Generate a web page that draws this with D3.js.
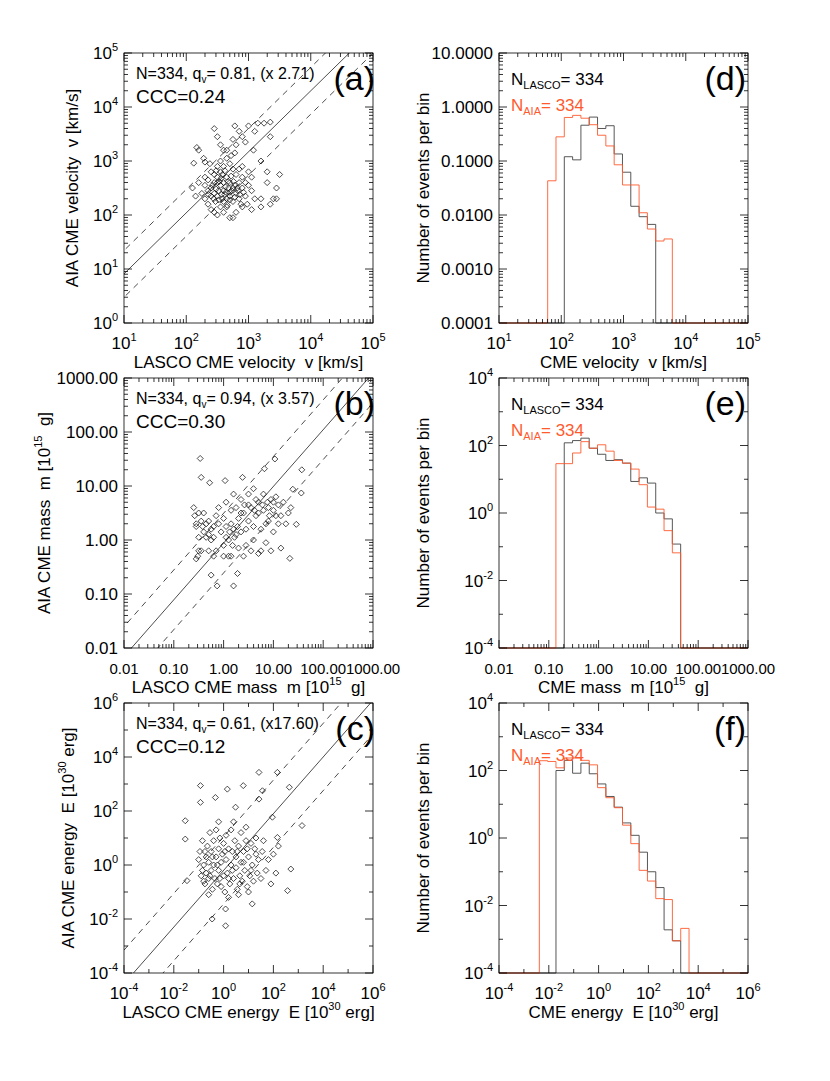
<!DOCTYPE html>
<html><head><meta charset="utf-8">
<script src="https://cdn.jsdelivr.net/npm/d3@7"></script>
<style>
body{margin:0;background:#fff}
text{font-family:"Liberation Sans",Arial,sans-serif;fill:#000;white-space:pre}
</style></head>
<body><svg id="fig" width="830" height="1081"></svg>
<script>
// scatter points as [log10 LASCO, log10 AIA]
const velPts = [[2.17,3.25],[2.2,3.2],[2.12,2.96],[2.3,2.98],[2.28,3.05],[2.45,3.6],[2.5,3.45],[2.55,3.3],[2.6,3.2],[2.65,3.2],[2.78,3.65],[2.85,3.55],[2.75,3.4],[2.9,3.45],[2.95,3.35],[3.0,3.65],[3.1,3.55],[3.15,3.7],[3.25,3.7],[3.35,3.72],[3.08,3.2],[3.2,3.0],[3.35,3.45],[3.3,2.8],[3.05,2.7],[3.3,2.6],[3.45,2.5],[3.5,2.75],[3.4,2.3],[3.45,2.3],[3.35,2.2],[3.2,2.3],[3.1,2.3],[3.05,2.1],[3.2,2.15],[2.9,2.15],[3.05,2.45],[2.1,2.5],[2.15,2.35],[2.2,2.6],[2.25,2.4],[2.3,2.3],[2.35,2.2],[2.4,2.1],[2.45,2.05],[2.5,2.0],[2.6,2.05],[2.7,1.95],[2.75,1.95],[2.8,2.05],[2.65,2.15],
  [2.4,2.5],[2.45,2.6],[2.5,2.7],[2.55,2.55],[2.6,2.45],[2.5,2.35],[2.45,2.4],[2.55,2.8],[2.6,2.9],[2.65,2.7],[2.7,2.6],[2.75,2.5],[2.8,2.4],[2.7,2.35],[2.65,2.3],[2.6,2.25],[2.75,2.25],[2.85,2.3],[2.9,2.5],[2.85,2.6],[2.8,2.75],[2.75,2.85],[2.7,2.95],[2.65,3.05],[2.55,3.0],[2.5,2.9],[2.4,2.8],[2.35,2.65],[2.3,2.55],[2.4,2.35],[2.35,2.45],[2.9,2.7],[2.95,2.6],[2.95,2.35],[3.0,2.55],[2.85,2.85],[2.78,3.15],[2.72,3.1],[2.8,3.3],[2.6,2.6],[2.68,2.5],[2.52,2.45],[2.58,2.75],[2.47,2.25],[2.62,2.38],[2.72,2.72],[2.82,2.5],[2.9,2.9],[3.0,2.8],[2.55,2.15],[2.5,2.6],[2.45,2.75],[2.38,2.95],[2.3,2.7],[2.98,2.2],[2.88,2.2],[2.7,2.42],[2.62,2.82],[2.76,2.62],[2.66,2.18],
  [2.42,2.55],[2.48,2.48],[2.53,2.62],[2.57,2.38],[2.63,2.52],[2.67,2.62],[2.73,2.45],[2.78,2.33],[2.83,2.45],[2.58,2.3],[2.52,2.28],[2.44,2.3],[2.36,2.38],[2.48,2.82],[2.56,2.68],[2.64,2.42],[2.7,2.28],[2.78,2.55],[2.86,2.38],[2.92,2.42]];
const massPts = [[-0.47,1.51],[-0.45,1.16],[-0.28,1.06],[0.03,1.1],[-0.25,-0.65],[-0.13,-0.85],[0.2,-0.85],[0.28,-0.62],[1.03,1.5],[0.82,1.32],[1.57,1.3],[1.33,-0.34],[1.46,0.29],[1.56,0.87],[1.39,0.94],[0.38,1.16],
  [-0.6,0.6],[-0.58,0.45],[-0.55,0.3],[-0.5,0.5],[-0.55,0.25],[-0.52,-0.3],[-0.55,-0.35],[-0.5,-0.2],[-0.45,0.35],[-0.4,0.15],[-0.35,0.3],[-0.3,0.1],[-0.3,0.35],[-0.25,0.0],[-0.2,0.25],[-0.2,0.05],[-0.15,-0.2],[-0.1,0.3],[-0.1,0.6],[-0.05,0.15],[0,0.4],[0,-0.1],[0.05,0.7],[0.05,0.25],[0.1,0.0],[0.1,-0.3],[0.15,0.55],[0.15,0.3],[0.2,0.85],[0.25,0.6],[0.25,0.1],[0.3,-0.15],[0.3,0.4],[0.35,0.75],[0.35,0.15],[0.4,-0.3],[0.4,0.5],[0.45,0.2],[0.45,-0.1],[0.5,0.85],[0.5,0.35],[0.55,-0.2],[0.55,0.6],[0.6,0.25],[0.6,0.95],[0.65,0.45],[0.7,-0.25],[0.7,0.7],[0.75,0.2],[0.8,0.55],[0.8,0.85],[0.85,-0.05],[0.9,0.6],[0.9,0.35],[0.95,0.75],[0.95,-0.2],[1.0,0.55],[1.0,0.15],[1.05,0.8],[1.1,0.3],[1.1,0.65],[1.15,-0.15],[1.15,0.45],[1.2,0.7],[1.25,0.3],[1.3,0.5],[1.35,0.6],[-0.45,-0.2],[-0.3,-0.2],[0.15,-0.3],[0.0,-0.3],[0.6,0.0],[0.75,-0.2],[0.2,0.2],[-0.15,0.45],[-0.4,0.5],[0.65,0.75],[0.85,0.3],[0.35,0.5],[-0.2,-0.3],
  [-0.5,0.05],[-0.42,0.25],[-0.35,0.05],[-0.25,0.2],[0.05,0.05],[0.12,0.15],[0.18,-0.1],[0.22,0.05],[0.28,0.25],[0.42,0.65],[0.5,0.65],[0.62,0.55],[0.7,0.5],[0.78,0.65],[0.88,0.7],[0.92,0.45],[1.0,0.7],[1.05,0.45]];
const energyPts = [[-0.93,2.94],[-0.93,2.32],[-0.33,2.5],[0.15,2.81],[0.79,2.94],[1.42,3.43],[2.16,3.43],[2.64,2.88],[3.15,1.46],[-1.54,1.64],[-1.54,0.96],[-1.47,-0.58],[0.08,-1.63],[0.08,-2.25],[-0.46,-2.0],[1.15,-1.44],[2.57,-0.95],[2.7,-0.15],[1.96,1.77],[0.48,2.14],[1.42,2.44],[1.56,2.75],[2.16,1.02],
  [-1.0,0.2],[-0.95,0.5],[-0.9,-0.4],[-0.85,0.9],[-0.8,-0.6],[-0.8,0.0],[-0.75,-0.7],[-0.7,0.3],[-0.7,-0.3],[-0.65,0.7],[-0.6,-0.5],[-0.6,0.1],[-0.55,1.2],[-0.5,-0.2],[-0.5,0.5],[-0.45,-0.9],[-0.4,0.9],[-0.4,0.0],[-0.35,-0.5],[-0.3,1.3],[-0.3,0.3],[-0.25,-0.7],[-0.2,0.6],[-0.2,-0.2],[-0.15,1.0],[-0.1,0.1],[-0.1,-0.8],[-0.05,0.4],[0.0,-0.4],[0.0,0.8],[0.05,-1.0],[0.1,0.2],[0.1,1.1],[0.15,-0.3],[0.2,0.6],[0.25,-0.7],[0.3,0.0],[0.3,1.3],[0.35,0.5],[0.4,-0.5],[0.45,0.9],[0.5,-0.1],[0.5,0.3],[0.55,-0.9],[0.6,0.7],[0.65,-0.4],[0.7,0.1],[0.7,1.2],[0.75,-0.6],[0.8,0.5],[0.85,-0.2],[0.9,0.9],[0.95,-0.8],[1.0,0.3],[1.05,-0.4],[1.1,0.8],[1.15,0.0],[1.2,-0.6],[1.25,0.6],[1.3,1.0],[1.35,-0.3],[1.4,0.2],[1.5,-0.5],[1.55,0.5],[1.6,0.9],[1.7,-0.2],[1.8,0.2],[1.9,-0.7],[2.0,0.4],[2.1,-0.3],[2.2,0.7],[0.2,-1.2],[0.6,-1.1],[1.0,-1.0],[-0.6,-1.1],[0.4,1.6],[0.9,1.4],[-0.2,1.6],
  [-0.85,-0.2],[-0.75,0.5],[-0.55,-0.4],[-0.45,0.3],[-0.25,0.0],[-0.15,-0.5],[0.05,0.5],[0.2,-0.5],[0.35,-0.2],[0.55,0.5],[0.65,-0.7],[0.8,0.1],[0.95,0.6],[1.1,-0.2],[1.3,0.4]];

// fit lines: [log x0, log y0, slope, log factor]
const velFit = [1, 0.91, 1.13, Math.log10(2.71)];
const massFit = [-1.85, -2, 1.05, Math.log10(3.57)];
const energyFit = [-3.62, -4, 1.05, Math.log10(17.6)];

// histograms: log10 of first bin left edge, bin width in dex, counts per bin
const velBins = {start: 1.782, width: 0.1335};
const velLasco = [0, 0, 0.12, 0.105, 0.46, 0.65, 0.40, 0.45, 0.135, 0.062, 0.0145, 0.0093, 0.0067, 0, 0, 0];
const velAia = [0.043, 0.28, 0.64, 0.70, 0.62, 0.47, 0.30, 0.19, 0.085, 0.036, 0.036, 0.011, 0.0055, 0.0033, 0.0036, 0];
const massBins = {start: -0.857, width: 0.167};
const massLasco = [0, 120, 140, 165, 83, 55, 36, 38, 30, 8.6, 11, 7.7, 1.0, 0.67, 0.12, 0];
const massAia = [29, 29, 60, 130, 83, 105, 68, 36, 30, 20, 6.9, 1.5, 1.3, 0.3, 0.066, 0];
const energyBins = {start: -2.38, width: 0.334};
const energyLasco = [0, 0, 100, 200, 83, 165, 80, 40, 17, 8.2, 2.8, 1.2, 0.38, 0.1, 0.034, 0.0019, 0.0009, 0];
const energyAia = [195, 185, 120, 235, 235, 200, 147, 31, 15.6, 7.9, 2.4, 0.68, 0.11, 0.053, 0.016, 0.015, 0.0009, 0.0021];

const RED = "#ff5a2e";
const svg = d3.select("#fig");
const W = 249, H = 270;

function powLabel(sel, n) {
  sel.append("tspan").text("10");
  sel.append("tspan").attr("dy", -8).attr("font-size", 11).text(n);
}
function richText(g, x, y, parts, opts) {
  const t = g.append("text").attr("x", x).attr("y", y)
    .attr("font-size", opts.size).attr("text-anchor", opts.anchor || "start")
    .style("fill", opts.color || "#000");
  if (opts.transform) t.attr("transform", opts.transform);
  let shift = 0;
  parts.forEach(p => {
    const dy = (p.dy || 0) - shift; shift = p.dy || 0;
    t.append("tspan").attr("dy", dy).attr("font-size", p.fs || opts.size)
      .style("fill", opts.color || "#000").text(p.t);
  });
  return t;
}

function logAxes(g, x, y, xr, yr, xStep, yStep, xFmt, yFmt) {
  g.append("rect").attr("width", W).attr("height", H).attr("fill", "none").attr("stroke", "#000").attr("stroke-width", 0.8);
  function ticks(lo, hi, step) {
    const maj = [], min = [];
    for (let e = lo; e <= hi; e++) {
      if ((e - lo) % step === 0) maj.push(e); else min.push(Math.pow(10, e));
      if (step === 1 && e < hi) for (let k = 2; k < 10; k++) min.push(k * Math.pow(10, e));
    }
    return {maj, min};
  }
  const tx = ticks(xr[0], xr[1], xStep), ty = ticks(yr[0], yr[1], yStep);
  const tk = g.append("g").attr("stroke", "#000").attr("stroke-width", 0.8);
  tx.maj.forEach(e => { const p = x(Math.pow(10, e));
    tk.append("line").attr("x1", p).attr("x2", p).attr("y1", H).attr("y2", H - 8);
    tk.append("line").attr("x1", p).attr("x2", p).attr("y1", 0).attr("y2", 8); });
  tx.min.forEach(v => { const p = x(v);
    tk.append("line").attr("x1", p).attr("x2", p).attr("y1", H).attr("y2", H - 4);
    tk.append("line").attr("x1", p).attr("x2", p).attr("y1", 0).attr("y2", 4); });
  ty.maj.forEach(e => { const p = y(Math.pow(10, e));
    tk.append("line").attr("y1", p).attr("y2", p).attr("x1", 0).attr("x2", 8);
    tk.append("line").attr("y1", p).attr("y2", p).attr("x1", W).attr("x2", W - 8); });
  ty.min.forEach(v => { const p = y(v);
    tk.append("line").attr("y1", p).attr("y2", p).attr("x1", 0).attr("x2", 4);
    tk.append("line").attr("y1", p).attr("y2", p).attr("x1", W).attr("x2", W - 4); });
  const xfs = xFmt === "pow" ? 17 : 15;
  tx.maj.forEach(e => {
    const t = g.append("text").attr("x", x(Math.pow(10, e))).attr("y", H + 26)
      .attr("text-anchor", "middle").attr("font-size", xfs);
    if (xFmt === "pow") powLabel(t, e); else t.text(d3.format(xFmt)(Math.pow(10, e)));
  });
  ty.maj.forEach(e => {
    const t = g.append("text").attr("x", -6).attr("y", y(Math.pow(10, e)) + 6)
      .attr("text-anchor", "end").attr("font-size", 17);
    if (yFmt === "pow") powLabel(t, e); else t.text(d3.format(yFmt)(Math.pow(10, e)));
  });
}

function scatterPanel(o) {
  const g = svg.append("g").attr("transform", `translate(124,${o.top})`);
  const x = d3.scaleLog().domain(o.xd.map(e => Math.pow(10, e))).range([0, W]);
  const y = d3.scaleLog().domain(o.yd.map(e => Math.pow(10, e))).range([H, 0]);
  const clip = "clip" + o.tag;
  g.append("clipPath").attr("id", clip).append("rect").attr("width", W).attr("height", H);
  const body = g.append("g").attr("clip-path", `url(#${clip})`);
  const [lx0, ly0, s, f] = o.fit;
  const lx1 = o.xd[1] + 1;
  [[0, null], [f, "6,5"], [-f, "6,5"]].forEach(([off, dash]) => {
    const pts = [lx0 - 3, lx1].map(lx => [x(Math.pow(10, lx)), y(Math.pow(10, ly0 + s * (lx - lx0) + off))]);
    body.append("path").attr("d", d3.line()(pts)).attr("fill", "none").attr("stroke", "#000")
      .attr("stroke-width", 0.7).attr("stroke-dasharray", dash);
  });
  body.selectAll("path.pt").data(o.pts).join("path").attr("class", "pt")
    .attr("transform", d => `translate(${x(Math.pow(10, d[0]))},${y(Math.pow(10, d[1]))})`)
    .attr("d", "M0,-3L3,0L0,3L-3,0Z").attr("fill", "none").attr("stroke", "#000").attr("stroke-width", 0.7);
  logAxes(g, x, y, o.xd, o.yd, o.xStep, o.yStep, o.xFmt, o.yFmt);
  richText(g, 12, 26, [{t: "N=334, q"}, {t: "v", fs: 10, dy: 4}, {t: "= " + o.q + ", " + o.fac}], {size: 16});
  g.append("text").attr("x", 12).attr("y", 50).attr("font-size", 19).text(o.ccc);
  g.append("text").attr("x", W + 2).attr("y", 37).attr("text-anchor", "end").attr("font-size", 34).text(o.label);
  richText(g, W / 2, H + 45, o.xTitle, {size: 17, anchor: "middle"});
  richText(g, 0, 0, o.yTitle, {size: 17, anchor: "middle", transform: `translate(${o.yTitleX},${H / 2}) rotate(-90)`});
}

function histPanel(o) {
  const g = svg.append("g").attr("transform", `translate(499,${o.top})`);
  const x = d3.scaleLog().domain(o.xd.map(e => Math.pow(10, e))).range([0, W]);
  const y = d3.scaleLog().domain(o.yd.map(e => Math.pow(10, e))).range([H, 0]).clamp(true);
  const ymin = Math.pow(10, o.yd[0]);
  function step(vals, color) {
    const pts = [[0, H]];
    vals.forEach((v, i) => {
      const a = x(Math.pow(10, o.bins.start + i * o.bins.width));
      const b = x(Math.pow(10, o.bins.start + (i + 1) * o.bins.width));
      const yy = v > 0 ? y(v) : y(ymin);
      pts.push([a, yy], [b, yy]);
    });
    const last = pts[pts.length - 1][0];
    pts.splice(1, 0, [pts[1][0], H]);
    pts.push([last, H], [W, H]);
    g.append("path").attr("d", d3.line()(pts)).attr("fill", "none").attr("stroke", color).attr("stroke-width", 0.9);
  }
  step(o.lasco, "#444");
  step(o.aia, RED);
  logAxes(g, x, y, o.xd, o.yd, o.xStep, o.yStep, o.xFmt, o.yFmt);
  richText(g, 12, 32, [{t: "N"}, {t: "LASCO", fs: 11, dy: 4}, {t: "= 334"}], {size: 17});
  richText(g, 12, 58, [{t: "N"}, {t: "AIA", fs: 11, dy: 4}, {t: "= 334"}], {size: 17, color: RED});
  g.append("text").attr("x", W - 2).attr("y", 37).attr("text-anchor", "end").attr("font-size", 34).text(o.label);
  richText(g, W / 2, H + 45, o.xTitle, {size: 17, anchor: "middle"});
  g.append("text").attr("transform", `translate(-70,${H / 2}) rotate(-90)`)
    .attr("text-anchor", "middle").attr("font-size", 17).text("Number of events per bin");
}

const sup = (t) => ({t, fs: 11, dy: -8});
scatterPanel({tag: "a", top: 53, xd: [1, 5], yd: [0, 5], xStep: 1, yStep: 1, xFmt: "pow", yFmt: "pow",
  pts: velPts, fit: velFit, q: "0.81", fac: "(x 2.71)", ccc: "CCC=0.24", label: "(a)", yTitleX: -46,
  xTitle: [{t: "LASCO CME velocity  v [km/s]"}], yTitle: [{t: "AIA CME velocity  v [km/s]"}]});
scatterPanel({tag: "b", top: 378, xd: [-2, 3], yd: [-2, 3], xStep: 1, yStep: 1, xFmt: ".2f", yFmt: ".2f",
  pts: massPts, fit: massFit, q: "0.94", fac: "(x 3.57)", ccc: "CCC=0.30", label: "(b)", yTitleX: -74,
  xTitle: [{t: "LASCO CME mass  m [10"}, sup("15"), {t: "  g]", dy: 0}],
  yTitle: [{t: "AIA CME mass  m [10"}, sup("15"), {t: "  g]", dy: 0}]});
scatterPanel({tag: "c", top: 703, xd: [-4, 6], yd: [-4, 6], xStep: 2, yStep: 2, xFmt: "pow", yFmt: "pow",
  pts: energyPts, fit: energyFit, q: "0.61", fac: "(x17.60)", ccc: "CCC=0.12", label: "(c)", yTitleX: -50,
  xTitle: [{t: "LASCO CME energy  E [10"}, sup("30"), {t: " erg]", dy: 0}],
  yTitle: [{t: "AIA CME energy  E [10"}, sup("30"), {t: " erg]", dy: 0}]});

histPanel({top: 53, xd: [1, 5], yd: [-4, 1], xStep: 1, yStep: 1, xFmt: "pow", yFmt: ".4f",
  bins: velBins, lasco: velLasco, aia: velAia, label: "(d)",
  xTitle: [{t: "CME velocity  v [km/s]"}]});
histPanel({top: 378, xd: [-2, 3], yd: [-4, 4], xStep: 1, yStep: 2, xFmt: ".2f", yFmt: "pow",
  bins: massBins, lasco: massLasco, aia: massAia, label: "(e)",
  xTitle: [{t: "CME mass  m [10"}, sup("15"), {t: "  g]", dy: 0}]});
histPanel({top: 703, xd: [-4, 6], yd: [-4, 4], xStep: 2, yStep: 2, xFmt: "pow", yFmt: "pow",
  bins: energyBins, lasco: energyLasco, aia: energyAia, label: "(f)",
  xTitle: [{t: "CME energy  E [10"}, sup("30"), {t: " erg]", dy: 0}]});
</script></body></html>
